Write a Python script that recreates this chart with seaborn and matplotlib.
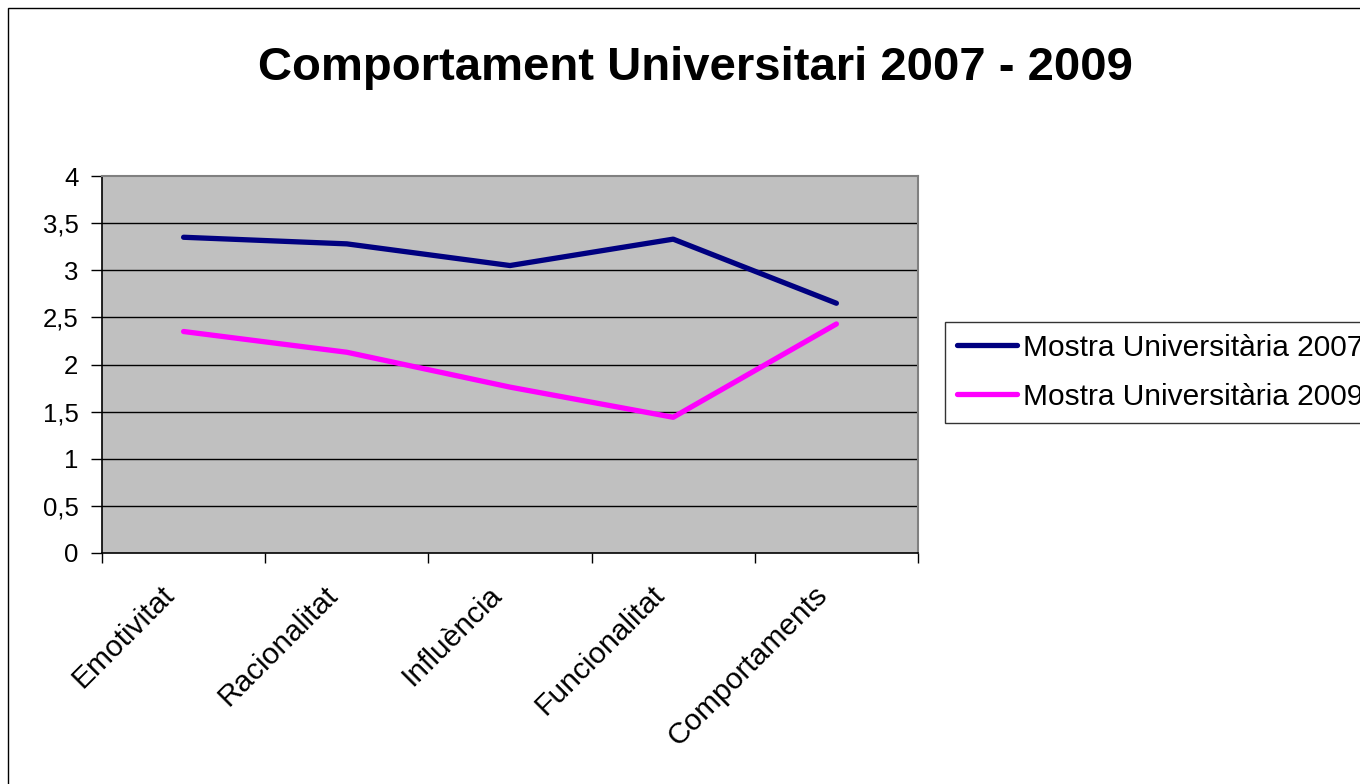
import matplotlib
matplotlib.use("Agg")
import matplotlib.pyplot as plt
import matplotlib.patches as mpatches
import seaborn as sns
import pandas as pd

categories = ["Emotivitat", "Racionalitat", "Influència", "Funcionalitat", "Comportaments"]
series_names = ["Mostra Universitària 2007", "Mostra Universitària 2009"]
values_2007 = [3.35, 3.28, 3.05, 3.33, 2.65]
values_2009 = [2.35, 2.13, 1.76, 1.44, 2.43]
y_ticks = [0, 0.5, 1, 1.5, 2, 2.5, 3, 3.5, 4]
y_tick_labels = ["0", "0,5", "1", "1,5", "2", "2,5", "3", "3,5", "4"]
title = "Comportament Universitari 2007 - 2009"

sns.set_theme(style="white")
plt.rcParams["font.family"] = ["Liberation Sans", "DejaVu Sans"]
plt.rcParams["text.color"] = "black"
plt.rcParams["xtick.color"] = "black"
plt.rcParams["ytick.color"] = "black"

df = pd.DataFrame({
    "pos": list(range(len(categories))) * 2,
    "value": values_2007 + values_2009,
    "serie": [series_names[0]] * len(categories) + [series_names[1]] * len(categories),
})

fig = plt.figure(figsize=(13.6, 7.84), dpi=100)
fig.patch.set_facecolor("white")
ax = fig.add_axes([102/1360, 1-553/784, (918-102)/1360, (553-176)/784])
ax.set_facecolor("#C0C0C0")

sns.lineplot(data=df, x="pos", y="value", hue="serie",
             palette={series_names[0]: "#000080", series_names[1]: "#FF00FF"},
             linewidth=3.8, ax=ax, legend=False, solid_capstyle="round",
             solid_joinstyle="round", sort=False)

ax.set_xlim(-0.5, len(categories) - 0.5)
ax.set_ylim(0, 4)
ax.set_yticks(y_ticks)
ax.set_yticklabels(y_tick_labels, fontsize=18.5, color="black")
for y in y_ticks[1:-1]:
    ax.axhline(y, color="black", linewidth=1.0, zorder=1)
ax.set_xticks([i - 0.5 for i in range(len(categories) + 1)])
ax.set_xticklabels([])
for i, cat in enumerate(categories):
    ax.annotate(cat, xy=(i, 0), xycoords=("data", "axes fraction"),
                xytext=(-9.5, -27), textcoords="offset points",
                fontsize=21.5, rotation=45, color="black",
                ha="right", va="center", rotation_mode="anchor",
                annotation_clip=False)
ax.tick_params(axis="x", which="major", length=7, width=1, color="black", direction="out", bottom=True)
ax.tick_params(axis="y", which="major", length=8, width=1, color="black", direction="out", left=True, pad=9)
ax.set_xlabel("")
ax.set_ylabel("")
for side in ["left", "bottom"]:
    ax.spines[side].set_color("black")
    ax.spines[side].set_linewidth(1.2)
for side in ["top", "right"]:
    ax.spines[side].set_color("#808080")
    ax.spines[side].set_linewidth(1.5)

fig.text(695/1360, 1-68/784, title, ha="center", va="center",
         fontsize=34, fontweight="bold", color="black")

handles = [plt.Line2D([], [], color="#000080", linewidth=3.8, solid_capstyle="round"),
           plt.Line2D([], [], color="#FF00FF", linewidth=3.8, solid_capstyle="round")]
leg = fig.legend(handles, series_names, loc="upper left",
                 bbox_to_anchor=(945/1360, 1-322/784), fontsize=21.5,
                 frameon=True, fancybox=False, handlelength=2.0,
                 handletextpad=0.2, borderpad=0.4, labelspacing=0.7,
                 borderaxespad=0)
leg.get_frame().set_edgecolor("black")
leg.get_frame().set_linewidth(1.0)
for t in leg.get_texts():
    t.set_color("black")

fig.patches.append(mpatches.Rectangle((8/1360, -0.05), 1.1, 1.05 - 8/784,
                                      transform=fig.transFigure, fill=False,
                                      edgecolor="black", linewidth=1.0))

fig.savefig("out.png", dpi=100)
